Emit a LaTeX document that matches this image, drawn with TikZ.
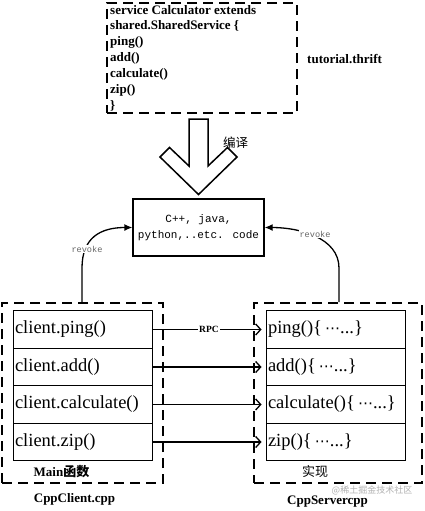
\documentclass[tikz,border=0pt]{standalone}
\usepackage{fontspec}
\setmainfont{Liberation Serif}
\newfontfamily\cjk{Noto Sans CJK SC}
\newfontfamily\monof{Liberation Mono}
\newfontfamily\dvs{DejaVu Sans}
\usetikzlibrary{arrows.meta}
\newcommand{\dotsx}{\,{\dvs\fontsize{15}{15}\selectfont ⋯}...}
\begin{document}
\begin{tikzpicture}[x=1pt,y=-1pt,
  dbox/.style={draw, line width=1.6pt, dash pattern=on 10pt off 6pt, inner sep=0pt},
  rowbox/.style={draw, line width=0.9pt, text width=135pt, inner sep=2pt, align=left,
     minimum height=37.5pt, font=\fontsize{18.5}{20}\selectfont},
  conn/.style={line width=1.5pt, -{Straight Barb[length=5pt,width=11pt,line width=1.3pt]}, shorten >=4pt},
  rev/.style={line width=1.3pt, -{Latex[length=8pt,width=7pt]}},
  revlbl/.style={fill=white, inner sep=1pt, text=black!60, font=\monof\fontsize{8.6}{9}\selectfont},
  btitle/.style={font=\bfseries\fontsize{13}{14}\selectfont, inner sep=0pt}
]
\useasboundingbox (0,0) rectangle (425,511);
\fill[white] (0,0) rectangle (425,511);

% thrift box
\node[dbox, minimum width=190pt, minimum height=110pt] (thrift) at (202,58) {};
\node[anchor=west, align=left, inner sep=0pt, font=\bfseries\fontsize{13}{15.83}\selectfont] (idl) at (110,58)
  {service Calculator extends\\shared.SharedService \{\\ping()\\add()\\calculate()\\zip()\\\}};
\node[btitle, anchor=west] (tut) at (307,59) {tutorial.thrift};

% big arrow
\draw[line width=1.5pt, line join=miter] (189,119) -- (208,119) -- (208,166) -- (227.5,147.5) -- (237,157)
  -- (198.5,194.5) -- (160,157) -- (169.5,147.5) -- (189,166) -- cycle;
\node[font=\cjk\fontsize{12.5}{13}\selectfont, inner sep=0pt] (compile) at (235.5,143) {编译};

% code box
\node[draw, line width=1.3pt, minimum width=131pt, minimum height=57pt, align=center,
  font=\monof\fontsize{11}{16}\selectfont, inner sep=0pt] (code) at (198.5,227.5)
  {C++, java,\\python,..etc. code};

% client and server boxes
\node[dbox, minimum width=161pt, minimum height=180pt] (client) at (82.5,393) {};
\node[dbox, minimum width=168pt, minimum height=180pt] (server) at (338,393) {};

\node[rowbox] (c1) at (82.5,329.5) {client.ping()};
\node[rowbox] (c2) at (82.5,367) {client.add()};
\node[rowbox] (c3) at (82.5,404.5) {client.calculate()};
\node[rowbox] (c4) at (82.5,442) {client.zip()};

\node[rowbox] (s1) at (335.5,329.5) {ping()\{\dotsx\}};
\node[rowbox] (s2) at (335.5,367) {add()\{\dotsx\}};
\node[rowbox] (s3) at (335.5,404.5) {calculate()\{\dotsx\}};
\node[rowbox] (s4) at (335.5,442) {zip()\{\dotsx\}};

\draw[conn] (c1.east) -- node[fill=white, inner sep=1pt, font=\bfseries\fontsize{9.5}{10}\selectfont] (rpc) {RPC} (s1.west);
\draw[conn] (c2.east) -- (s2.west);
\draw[conn] (c3.east) -- (s3.west);
\draw[conn] (c4.east) -- (s4.west);

% revoke arrows
\coordinate (lstart) at (client.north -| 82,0);
\coordinate (rstart) at (server.north -| 339,0);
\draw[rev] (lstart) -- (82,268) .. controls (82,238) and (100,227.5) .. (code.west);
\draw[rev] (rstart) -- (339,268) .. controls (339,238) and (300,227.5) .. (code.east);
\node[revlbl] (rvl) at (87,249) {revoke};
\node[revlbl] (rvr) at (315,234) {revoke};

% captions
\node[btitle] (mainf) at (61.5,472) {Main{\cjk 函数}};
\node[btitle] (cfile) at (74.5,499) {CppClient.cpp};
\node[font=\cjk\fontsize{13}{14}\selectfont, inner sep=0pt] (impl) at (315,472) {实现};
\node[btitle] (sfile) at (327.5,501.5) {CppServercpp};
\node[font=\cjk\fontsize{9}{10}\selectfont, text=black!30, inner sep=0pt] (wm) at (372,490) {@稀土掘金技术社区};
\end{tikzpicture}
\end{document}
